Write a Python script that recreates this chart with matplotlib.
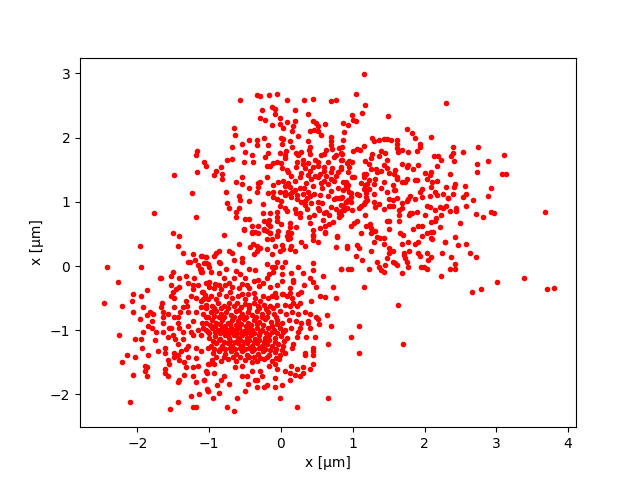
import matplotlib
matplotlib.use("Agg")
import matplotlib.pyplot as plt

upper_right = [(1.15,2.99),(1.05,2.68),(1.17,2.51),(1.13,2.38),(0.99,2.35),(1.00,2.28),(1.04,2.26),(0.87,2.23),(0.94,2.19),(0.88,2.09),(1.49,2.33),(2.30,2.54),(1.76,2.13),(1.82,2.07),(1.87,1.99),(2.09,2.01),(0.87,1.96),
(1.27,1.99),(1.29,1.94),(1.37,1.96),(1.43,1.98),(1.48,1.97),(1.53,1.96),(1.61,1.96),(1.62,1.90),(1.62,1.84),(1.68,1.80),(1.63,1.77),(1.94,1.90),(1.93,1.85),(1.90,1.79),(1.77,1.77),
(2.39,1.85),(2.40,1.76),(2.37,1.71),(2.53,1.77),(2.75,1.85),(2.13,1.71),(2.19,1.72),(2.23,1.65),(2.41,1.63),(3.11,1.73),(2.89,1.63),(2.73,1.59),(2.73,1.46),(3.08,1.43),(3.14,1.43),
(2.18,1.55),(1.91,1.57),(1.77,1.57),(1.76,1.54),(1.84,1.51),(1.68,1.59),(2.36,1.43),(2.00,1.45),(2.09,1.46),(2.07,1.41),(2.04,1.35),(2.18,1.32),(1.87,1.34),(1.89,1.34),
(1.75,1.36),(1.73,1.31),(1.68,1.31),(1.62,1.35),(1.61,1.38),(1.59,1.49),(1.58,1.43),(2.11,1.31),(2.09,1.23),(2.30,1.23),(2.43,1.27),(2.41,1.23),(2.57,1.24),(2.93,1.21),(2.89,1.09),
(1.96,1.20),(1.93,1.16),(1.56,1.26),(1.58,1.18),(1.59,1.18),(1.44,1.31),(1.40,1.21),(1.47,1.16),(2.15,1.15),(2.18,1.10),(2.26,1.12),(2.40,1.12),(2.58,1.12),(2.54,1.07),(2.68,1.02),(2.07,1.09),(2.32,1.06),(2.33,1.06),
(1.97,1.07),(1.87,1.04),(1.80,1.09),(1.77,1.04),(1.75,1.01),(1.69,0.98),(1.62,1.06),(1.56,1.02),(1.50,1.04),(2.58,0.93),(2.44,0.90),(2.44,0.86),(2.36,0.85),(2.30,0.93),(2.26,0.90),(2.21,0.92),(2.15,0.87),(2.07,0.92),(2.03,0.93),
(1.68,0.90),(1.65,0.87),(1.65,0.79),(1.65,0.70),(1.52,0.93),(1.56,0.93),(1.51,0.93),(1.37,0.96),(1.31,0.92),(1.29,0.99),(1.44,0.88),(2.72,0.81),(2.82,0.76),(2.92,0.84),(2.97,0.82),(3.68,0.84),
(2.23,0.79),(2.16,0.74),(2.15,0.70),(2.09,0.68),(2.01,0.79),(1.90,0.84),(1.82,0.82),(1.79,0.79),(1.80,0.82),(2.50,0.67),(2.22,0.60),(1.96,0.63),(1.91,0.62),(1.84,0.57),(1.51,0.57),(1.51,0.70),(1.47,0.70),
(2.12,0.53),(2.09,0.53),(2.03,0.51),(1.97,0.46),(2.09,0.43),(2.11,0.42),(1.91,0.38),(1.87,0.34),(2.43,0.45),(2.29,0.38),(2.29,0.37),(2.47,0.32),(2.58,0.34),
(1.77,0.37),(1.69,0.35),(1.66,0.51),(1.70,0.49),(1.43,0.35),(1.44,0.43),(1.38,0.43),(1.34,0.45),(1.30,0.38),(1.31,0.54),(1.26,0.51),(1.19,0.62),(1.24,0.65),(1.26,0.59),(1.06,0.70),(1.02,0.67),(0.97,0.62),(1.11,0.51),(1.17,0.79),
(0.92,0.31),(0.92,0.28),(1.06,0.32),(1.08,0.28),(1.26,0.24),(1.51,0.28),(1.56,0.24),(1.51,0.21),(1.79,0.24),(1.72,0.21),(1.72,0.17),(1.91,0.21),(1.93,0.15),(2.03,0.21),
(2.25,0.20),(2.37,0.14),(2.64,0.20),(2.72,0.14),(2.09,0.14),(2.05,0.10),(2.43,0.03),(2.43,-0.04),(2.36,-0.05),(2.23,-0.15),(1.95,-0.01),(1.99,-0.02),(2.04,-0.05),(1.77,-0.01),(1.75,0.06),(1.73,0.12),(1.68,-0.11),
(1.61,0.01),(1.59,0.04),(1.56,0.07),(1.47,0.12),(1.45,0.01),(1.34,0.07),(1.13,0.10),(1.05,0.15),(1.22,-0.04),(1.37,-0.02),(1.40,-0.07),(1.43,-0.10),(0.97,-0.04),(0.94,-0.05),(0.84,-0.05),
(1.15,-0.32),(2.66,-0.40),(2.78,-0.36),(3.01,-0.25),(3.38,-0.18),(3.70,-0.36),(3.80,-0.35),(1.63,-0.60),(1.09,-0.93),(0.97,-1.11),(1.70,-1.21),(1.08,-1.36),
(1.01,1.79),(1.06,1.82),(1.10,1.81),(1.16,1.87),(0.85,1.86),(0.85,1.74),(0.84,1.65),(0.95,1.63),(0.99,1.62),(0.95,1.54),(0.94,1.46),(0.84,1.54),(0.83,1.51),
(1.27,1.74),(1.26,1.68),(1.36,1.71),(1.40,1.79),(1.45,1.76),(1.47,1.65),(1.17,1.63),(1.22,1.59),(1.26,1.51),(1.33,1.51),(1.34,1.46),(1.40,1.48),(1.43,1.57),(1.48,1.52),(1.50,1.45),
(1.15,1.43),(1.19,1.43),(1.15,1.38),(1.31,1.35),(1.23,1.34),(1.20,1.27),(1.30,1.27),(1.12,1.29),(1.17,1.26),(0.99,1.38),(1.02,1.38),(0.90,1.31),(0.94,1.26),(0.92,1.21),(0.95,1.16),(1.15,1.20),(1.22,1.20),(1.06,1.12),(1.09,1.10),(0.97,1.13),(0.98,1.07),(0.94,1.02),(0.98,0.99),(0.87,1.18),(0.84,1.06),(0.91,1.00),
(1.19,1.13),(1.19,1.07),(1.30,1.12),(1.20,1.02),(1.17,0.99),(1.15,0.96),(1.12,0.93),(1.08,0.90),(0.99,0.87),(0.87,0.93),(0.83,0.85),(0.83,0.79)]

upper_left = [(-1.77,0.83),(-1.49,1.42),(-0.57,2.58),(-0.34,2.67),(-0.29,2.65),(-0.16,2.67),(-0.06,2.68),(0.09,2.58),(0.32,2.58),(0.44,2.60),(0.70,2.57),(0.76,2.58),(-0.12,2.48),(-0.09,2.44),(-0.27,2.43),(-0.09,2.37),(0.19,2.43),(0.38,2.37),
(-0.29,2.30),(-0.22,2.27),(-0.02,2.30),(0.09,2.24),(0.19,2.26),(-0.13,2.19),(-0.01,2.21),(0.03,2.15),(0.17,2.18),(0.16,2.10),(0.44,2.26),(0.49,2.23),(0.51,2.18),(0.62,2.21),(0.41,2.10),(0.46,2.12),(0.51,2.10),(0.56,2.04),
(-0.65,2.15),(-0.64,2.04),(0.24,2.02),(-0.44,1.96),(-0.34,1.96),(-0.23,1.99),(0.00,1.99),(0.03,1.98),(0.13,1.94),(0.37,1.94),(0.70,2.01),(0.69,1.94),
(-0.54,1.90),(-0.33,1.88),(-0.18,1.88),(0.02,1.90),(0.16,1.85),(0.70,1.88),(0.71,1.82),(0.41,1.85),(0.39,1.80),(0.41,1.74),(0.81,1.84),(0.84,1.76),(-0.68,1.85),
(-1.17,1.79),(-1.19,1.73),(-0.50,1.77),(-0.40,1.73),(-0.18,1.76),(-0.22,1.70),(-0.02,1.76),(0.07,1.79),(0.06,1.73),(0.06,1.68),(0.21,1.76),(0.24,1.73),(0.28,1.77),(0.56,1.73),(0.60,1.74),(0.63,1.80),(0.77,1.73),(0.74,1.70),(0.85,1.65),
(-1.07,1.62),(-1.04,1.55),(-0.84,1.54),(-0.91,1.48),(-0.94,1.41),(-0.75,1.65),(-0.68,1.66),(-0.51,1.62),(-0.39,1.62),(-1.17,1.46),(-0.82,1.43),(-0.82,1.35),(-0.54,1.38),(-0.62,1.31),(-0.54,1.27),(-0.45,1.21),(-0.20,1.38),(-0.19,1.55),(-0.15,1.55),(-0.11,1.60),(-0.05,1.62),(0.00,1.60),(0.02,1.53),(0.09,1.50),(0.10,1.46),(0.21,1.54),
(0.31,1.59),(0.37,1.60),(0.47,1.65),(0.52,1.62),(0.44,1.54),(0.51,1.55),(0.60,1.54),(0.60,1.48),(0.71,1.52),(0.70,1.46),(0.77,1.40),(0.92,1.61),(0.41,1.48),(0.37,1.41),(0.27,1.38),(0.48,1.40),(0.42,1.35),(0.35,1.29),(0.32,1.21),(0.27,1.21),(0.51,1.38),(0.63,1.40),(0.60,1.32),(0.57,1.21),(0.65,1.27),(0.69,1.35),(0.87,1.31),(0.90,1.25),
(-0.32,1.29),(-0.29,1.31),(-0.32,1.23),(-0.33,1.15),(-0.11,1.26),(-0.04,1.31),(0.03,1.32),(0.05,1.24),(0.06,1.16),(0.12,1.23),(0.16,1.16),(0.14,1.07),(0.23,1.10),(0.23,1.04),(0.10,1.29),
(-0.76,1.15),(-0.59,1.09),(-0.57,1.02),(-0.45,1.01),(-0.75,0.98),(-0.72,0.90),(-0.59,0.90),(-0.62,0.84),(-0.62,0.76),(-0.18,1.13),(-0.11,1.15),(-0.11,1.07),(-0.06,1.05),(0.00,1.01),(-0.25,0.96),(-0.02,0.93),
(0.31,1.12),(0.36,1.06),(0.41,1.09),(0.33,1.01),(0.34,0.95),(0.51,0.99),(0.57,0.98),(0.65,1.09),(0.76,1.06),(0.81,1.06),(0.85,1.07),(0.90,0.99),(0.84,0.95),(0.76,0.88),(0.51,0.90),(0.46,0.79),(0.53,0.87),(0.60,0.82),(0.63,0.84),(0.67,0.79),(0.81,0.82),(0.81,0.76),(0.88,0.87),
(0.06,0.90),(0.09,0.85),(0.19,0.88),(0.21,0.82),(0.26,0.82),(0.27,0.76),(-1.24,1.13),(-1.19,0.77),(-0.80,0.49),(-0.25,0.82),(-0.15,0.82),(-0.06,0.84),(-0.05,0.77),(-0.05,0.70),(-0.23,0.70),(-0.16,0.71),(-0.18,0.65),
(-0.50,0.73),(-0.44,0.73),(-0.41,0.63),(-0.51,0.57),(-0.32,0.62),(-0.23,0.57),(-0.15,0.63),(0.00,0.65),(0.13,0.67),(0.13,0.60),(0.21,0.60),(0.41,0.67),(0.62,0.62),(0.67,0.65),(0.55,0.59),(0.62,0.53),(0.45,0.56),
(-0.41,0.53),(-0.36,0.53),(-0.19,0.54),(-0.15,0.51),(-0.04,0.54),(0.10,0.53),(0.14,0.51),(-0.05,0.46),(0.13,0.43),(0.45,0.46),(0.44,0.40),(0.78,0.46)]

upper_core = [(0.14,1.40),(0.20,1.33),(0.28,1.45),(0.33,1.52),(0.55,1.44),(0.74,1.33),(0.80,1.47),(0.12,1.12),(0.20,1.18),(0.28,1.00),(0.38,1.16),(0.44,1.24),(0.46,1.12),(0.55,1.10),(0.70,1.17),(0.74,1.05),(0.79,1.22),(0.42,0.98),(0.70,0.92),(0.92,0.90),(0.30,1.65),(0.23,1.62),(0.66,1.62),(0.56,1.30),(0.05,1.10),(-0.02,1.16),(0.36,0.88),(0.39,0.76),(0.58,0.72),(0.72,0.68)]

lower_right = [(-0.52,0.56),(-0.40,0.51),(-0.32,0.51),(-0.23,0.56),(-0.15,0.51),(-0.05,0.48),(-0.19,0.42),(-0.13,0.42),(0.12,0.52),(0.09,0.46),(0.10,0.42),(0.28,0.38),(0.34,0.31),(0.52,0.38),(0.44,0.48),(0.61,0.51),(0.78,0.45),(0.77,0.29),
(-0.59,0.35),(-0.43,0.29),(-0.39,0.34),(-0.33,0.31),(-0.29,0.28),(-0.20,0.26),(-0.09,0.31),(-0.02,0.23),(0.02,0.32),(0.03,0.26),(0.12,0.26),(0.20,0.23),(0.14,0.31),(-0.37,0.18),(-0.33,0.23),(-0.13,0.18),(-1.10,0.15),(-0.94,0.15),(-0.91,0.21),(-0.86,0.23),(-0.73,0.23),(-0.68,0.20),(-0.66,0.10),
(-0.55,0.12),(-0.54,0.06),(-0.86,0.07),(-0.85,0.04),(-1.04,0.14),(-1.02,0.03),(-1.07,0.04),(-1.11,-0.04),(-1.10,-0.10),(-1.00,-0.01),(-0.05,0.07),(0.06,0.07),(-0.20,0.03),(0.24,-0.01),(0.44,0.04),(0.45,-0.07),(0.02,-0.02),(0.02,-0.13),(0.02,-0.24),(-0.13,-0.02),(-0.09,-0.02),(-0.11,-0.10),(-0.16,-0.13),(-0.20,-0.19),(-0.25,-0.27),(-0.44,-0.05),(-0.36,-0.07),
(0.14,-0.11),(0.30,-0.11),(0.59,-0.15),(0.41,-0.19),(0.45,-0.25),(0.49,-0.33),(0.17,-0.22),(0.17,-0.25),(0.32,-0.30),(0.12,-0.35),(0.83,-0.05),(0.72,-0.33),(0.55,-0.47),(0.62,-0.49),(0.77,-0.50),(0.42,-0.54),(0.28,-0.41),(0.24,-0.43),(0.02,-0.43),(0.03,-0.43),
(0.16,-0.50),(0.17,-0.57),(0.26,-0.57),(-0.07,-0.49),(-0.12,-0.47),(-0.18,-0.50),(-0.25,-0.47),(-0.29,-0.54),(-0.32,-0.62),(-0.86,-0.11),(-0.76,-0.04),(-0.63,-0.08),(-0.79,-0.18),(-0.73,-0.26),(-0.57,-0.13),(-0.50,-0.19),(-0.66,-0.19),(-0.37,-0.24),(-0.32,-0.22),(-0.44,-0.35),(-0.47,-0.29),
(-0.97,-0.10),(-1.04,-0.27),(-1.00,-0.25),(-1.10,-0.40),(-0.93,-0.35),(-0.86,-0.30),(-0.83,-0.36),(-0.71,-0.41),(-0.91,-0.52),(-0.98,-0.47),(-1.08,-0.52),(-0.68,-0.50),(-0.59,-0.35),(-0.54,-0.43),(-0.50,-0.52),(-0.36,-0.50),(-0.44,-0.61),(-0.61,-0.58),
(0.34,-0.71),(0.41,-0.74),(0.49,-0.79),(0.52,-0.82),(0.64,-0.77),(0.53,-0.91),(0.70,-0.93),(0.40,-0.97),(0.48,-1.11),(0.35,-1.10),(0.23,-1.10),(0.24,-1.02),(0.26,-0.97),(0.28,-0.88),(0.21,-0.85),(0.37,-0.85),(0.38,-0.89),
(0.66,-1.21),(0.44,-1.27),(0.44,-1.33),(0.45,-1.39),(0.34,-1.35),(0.34,-1.39),(0.17,-1.21),(0.16,-1.27),(0.06,-1.35),(0.44,-1.52),(0.40,-1.61),(0.30,-1.57),(0.31,-1.66),(0.26,-1.72),(0.19,-1.69),(0.12,-1.67),(0.05,-1.64),(0.23,-1.61),(0.14,-1.55),(0.13,-1.78),(0.02,-1.85),(-0.08,-1.89),(-0.19,-1.85),(-0.23,-1.88),(-0.09,-1.74),(-0.05,-1.61),(-0.09,-1.53),(-0.16,-1.55),
(-0.02,-2.05),(0.23,-2.20),(0.65,-2.06),(-0.61,-2.05),(-0.75,-2.19),(-0.66,-2.25),(-0.95,-2.06),(-0.50,-1.94),(-0.34,-1.89),(-0.46,-1.83),(-0.54,-1.72),(-0.48,-1.72),(-0.36,-1.77),(-0.33,-1.78),(-0.27,-1.72),(-0.41,-1.63),(-0.40,-1.50),(-0.29,-1.63),
(-0.87,-1.97),(-0.89,-1.86),(-1.01,-1.94),(-0.73,-1.83),(-0.83,-1.78),(-0.80,-1.71),(-1.07,-1.77),(-1.03,-1.66),(-0.94,-1.67),(-1.00,-1.52),(-0.93,-1.53),(-0.64,-1.58),(-0.55,-1.56)]

lower_left = [(-1.51,0.51),(-1.42,0.46),(-1.96,0.31),(-1.43,0.31),(-1.36,0.20),(-1.23,0.18),(-1.11,0.15),(-1.04,0.14),(-1.30,0.06),(-1.27,0.06),(-1.20,0.10),(-1.15,0.01),(-1.05,0.04),(-2.43,-0.02),(-1.95,-0.02),
(-2.27,-0.25),(-1.69,-0.19),(-1.67,-0.19),(-1.51,-0.10),(-1.53,-0.16),(-1.42,-0.18),(-1.33,-0.16),(-1.21,-0.18),(-1.12,-0.10),(-1.13,-0.05),(-1.53,-0.29),(-1.29,-0.27),(-1.23,-0.29),(-1.15,-0.30),(-1.23,-0.36),(-1.09,-0.40),(-1.01,-0.27),(-1.42,-0.33),(-1.46,-0.36),(-1.50,-0.41),(-1.53,-0.47),(-1.49,-0.50),(-2.06,-0.43),(-1.95,-0.46),(-1.87,-0.38),
(-2.47,-0.57),(-2.21,-0.63),(-2.08,-0.54),(-1.92,-0.64),(-2.06,-0.72),(-1.96,-0.82),(-1.83,-0.71),(-1.78,-0.74),(-1.86,-0.77),(-1.79,-0.85),(-1.66,-0.58),(-1.67,-0.64),(-1.64,-0.71),(-1.58,-0.74),(-1.65,-0.80),(-1.64,-0.88),
(-1.49,-0.64),(-1.33,-0.55),(-1.26,-0.47),(-1.18,-0.50),(-1.12,-0.54),(-1.01,-0.52),(-1.36,-0.64),(-1.31,-0.63),(-1.40,-0.71),(-1.29,-0.72),(-1.19,-0.72),(-1.12,-0.64),(-1.05,-0.66),(-1.49,-0.79),(-1.43,-0.79),
(-1.85,-0.94),(-1.79,-0.97),(-1.74,-1.02),(-1.65,-1.03),(-1.92,-1.02),(-2.25,-1.07),(-2.04,-1.13),(-1.95,-1.14),(-1.75,-1.16),(-1.56,-0.96),(-1.53,-0.96),(-1.44,-0.89),(-1.42,-0.96),(-1.22,-0.85),(-1.30,-0.94),(-1.36,-1.02),(-1.26,-1.02),(-1.22,-1.08),
(-1.57,-1.11),(-1.51,-1.07),(-1.47,-1.13),(-1.44,-1.21),(-1.36,-1.13),(-1.29,-1.24),(-1.33,-1.30),(-1.39,-1.32),(-1.15,-0.99),(-1.09,-0.96),(-1.04,-0.89),(-1.12,-1.08),(-1.02,-1.03),(-1.05,-0.80),(-1.19,-1.28),(-1.12,-1.32),(-1.02,-1.28),
(-1.93,-1.28),(-1.72,-1.32),(-1.62,-1.27),(-1.62,-1.35),(-2.15,-1.39),(-2.03,-1.42),(-1.85,-1.38),(-2.21,-1.50),(-1.49,-1.36),(-1.49,-1.42),(-1.43,-1.39),(-1.30,-1.41),(-1.18,-1.44),(-1.42,-1.47),(-1.58,-1.46),(-1.56,-1.53),(-1.62,-1.60),(-1.62,-1.66),(-1.57,-1.71),
(-1.89,-1.55),(-1.87,-1.58),(-1.90,-1.64),(-1.87,-1.72),(-2.06,-1.70),(-1.35,-1.50),(-1.32,-1.58),(-1.22,-1.58),(-1.15,-1.56),(-1.04,-1.64),(-1.01,-1.53),(-1.35,-1.70),(-1.23,-1.72),(-1.18,-1.80),(-1.07,-1.77),(-1.42,-1.78),(-1.43,-1.81),(-1.03,-1.91),(-1.26,-2.02),(-1.14,-2.00),(-2.10,-2.11),(-1.43,-2.11),(-1.54,-2.22),(-1.22,-2.19),(-1.19,-2.19),(-1.01,-1.94)]

lower_core = [(-1.00,-0.32),(-0.92,-0.28),(-0.78,-0.30),(-0.68,-0.33),(-0.55,-0.28),(-0.30,-0.31),(-0.15,-0.33),(-0.05,-0.30),
(-1.06,-0.45),(-0.86,-0.44),(-0.76,-0.47),(-0.60,-0.46),(-0.46,-0.44),(-0.38,-0.42),(-0.08,-0.42),(0.08,-0.46),(0.12,-0.42),
(-1.05,-0.60),(-0.96,-0.62),(-0.88,-0.58),(-0.80,-0.63),(-0.72,-0.58),(-0.66,-0.62),(-0.56,-0.64),(-0.50,-0.59),(-0.38,-0.58),(-0.24,-0.60),(-0.15,-0.62),(-0.06,-0.60),(0.05,-0.60),(0.12,-0.63),(0.22,-0.62),
(-1.08,-0.74),(-0.98,-0.72),(-0.90,-0.70),(-0.84,-0.75),(-0.76,-0.71),(-0.70,-0.76),(-0.62,-0.70),(-0.54,-0.74),(-0.46,-0.72),(-0.40,-0.77),(-0.33,-0.70),(-0.26,-0.74),(-0.18,-0.71),(-0.10,-0.75),(-0.02,-0.70),(0.07,-0.74),(0.16,-0.72),(0.24,-0.74),
(-1.10,-0.88),(-0.96,-0.84),(-0.90,-0.88),(-0.82,-0.84),(-0.74,-0.88),(-0.68,-0.84),(-0.60,-0.86),(-0.52,-0.83),(-0.46,-0.88),(-0.38,-0.84),(-0.30,-0.87),(-0.22,-0.83),(-0.14,-0.87),(-0.05,-0.84),(0.02,-0.88),(0.11,-0.84),
(-1.04,-1.00),(-0.96,-0.96),(-0.88,-1.00),(-0.82,-0.96),(-0.75,-1.00),(-0.70,-0.96),(-0.64,-1.00),(-0.58,-0.96),(-0.52,-1.01),(-0.46,-0.96),(-0.40,-1.00),(-0.34,-0.96),(-0.26,-1.00),(-0.18,-0.96),(-0.10,-1.00),(-0.02,-0.96),(0.06,-1.00),(0.14,-0.97),
(-1.00,-1.12),(-0.92,-1.09),(-0.85,-1.13),(-0.78,-1.08),(-0.72,-1.12),(-0.66,-1.08),(-0.60,-1.12),(-0.55,-1.07),(-0.48,-1.12),(-0.42,-1.08),(-0.36,-1.13),(-0.30,-1.08),(-0.22,-1.12),(-0.16,-1.08),(-0.08,-1.12),(0.00,-1.09),(0.09,-1.12),
(-0.98,-1.24),(-0.90,-1.20),(-0.82,-1.25),(-0.74,-1.20),(-0.68,-1.24),(-0.60,-1.20),(-0.54,-1.24),(-0.47,-1.20),(-0.41,-1.25),(-0.34,-1.20),(-0.27,-1.25),(-0.20,-1.21),(-0.12,-1.25),(-0.04,-1.21),(0.03,-1.25),
(-0.95,-1.36),(-0.86,-1.33),(-0.78,-1.37),(-0.70,-1.33),(-0.62,-1.37),(-0.55,-1.33),(-0.48,-1.38),(-0.40,-1.33),(-0.32,-1.37),(-0.25,-1.33),(-0.17,-1.38),(-0.09,-1.34),(-0.02,-1.38),
(-0.96,-1.46),(-0.84,-1.48),(-0.74,-1.45),(-0.62,-1.48),(-0.50,-1.46),(-0.34,-1.48),(-0.24,-1.45),(-0.12,-1.48),(-0.03,-1.45)]

lower_dense = [(-0.93,-0.66),(-0.84,-0.66),(-0.74,-0.65),(-0.59,-0.68),(-0.44,-0.66),(-0.30,-0.65),(-0.21,-0.67),(-0.11,-0.66),
(-1.02,-0.80),(-0.94,-0.78),(-0.87,-0.80),(-0.79,-0.79),(-0.65,-0.79),(-0.57,-0.79),(-0.49,-0.80),(-0.35,-0.80),(-0.27,-0.79),(-0.19,-0.80),(-0.07,-0.79),
(-0.99,-0.92),(-0.92,-0.93),(-0.85,-0.91),(-0.78,-0.93),(-0.71,-0.91),(-0.63,-0.92),(-0.56,-0.91),(-0.49,-0.93),(-0.42,-0.92),(-0.34,-0.91),(-0.25,-0.92),(-0.13,-0.93),(-0.06,-0.91),
(-1.00,-1.05),(-0.92,-1.03),(-0.85,-1.05),(-0.79,-1.03),(-0.72,-1.05),(-0.67,-1.03),(-0.61,-1.05),(-0.55,-1.03),(-0.49,-1.05),(-0.43,-1.03),(-0.37,-1.05),(-0.29,-1.03),(-0.21,-1.05),(-0.13,-1.03),(-0.05,-1.05),(0.03,-1.03),
(-0.95,-1.17),(-0.87,-1.16),(-0.79,-1.18),(-0.71,-1.17),(-0.64,-1.18),(-0.57,-1.16),(-0.51,-1.18),(-0.45,-1.16),(-0.38,-1.18),(-0.31,-1.16),(-0.24,-1.18),(-0.16,-1.16),(-0.08,-1.18),(0.04,-1.17),
(-0.93,-1.29),(-0.85,-1.29),(-0.78,-1.30),(-0.71,-1.27),(-0.64,-1.30),(-0.57,-1.28),(-0.50,-1.30),(-0.44,-1.28),(-0.37,-1.30),(-0.30,-1.28),(-0.22,-1.29),(-0.15,-1.31),(-0.07,-1.29),(0.01,-1.31),
(-0.90,-1.42),(-0.80,-1.42),(-0.67,-1.42),(-0.57,-1.41),(-0.44,-1.42),(-0.37,-1.42),(-0.29,-1.43),(-0.20,-1.42),(-0.07,-1.44)]

points = upper_right + upper_left + upper_core + lower_right + lower_left + lower_core + lower_dense
xs = [p[0] for p in points]
ys = [p[1] for p in points]

fig, ax = plt.subplots(figsize=(6.4, 4.8), dpi=100)
ax.plot(xs, ys, "r.")
ax.set_xlim(-2.80, 4.11)
ax.set_ylim(-2.51, 3.245)
ax.set_xlabel("x [µm]")
ax.set_ylabel("x [µm]")
fig.savefig("out.png", dpi=100)
